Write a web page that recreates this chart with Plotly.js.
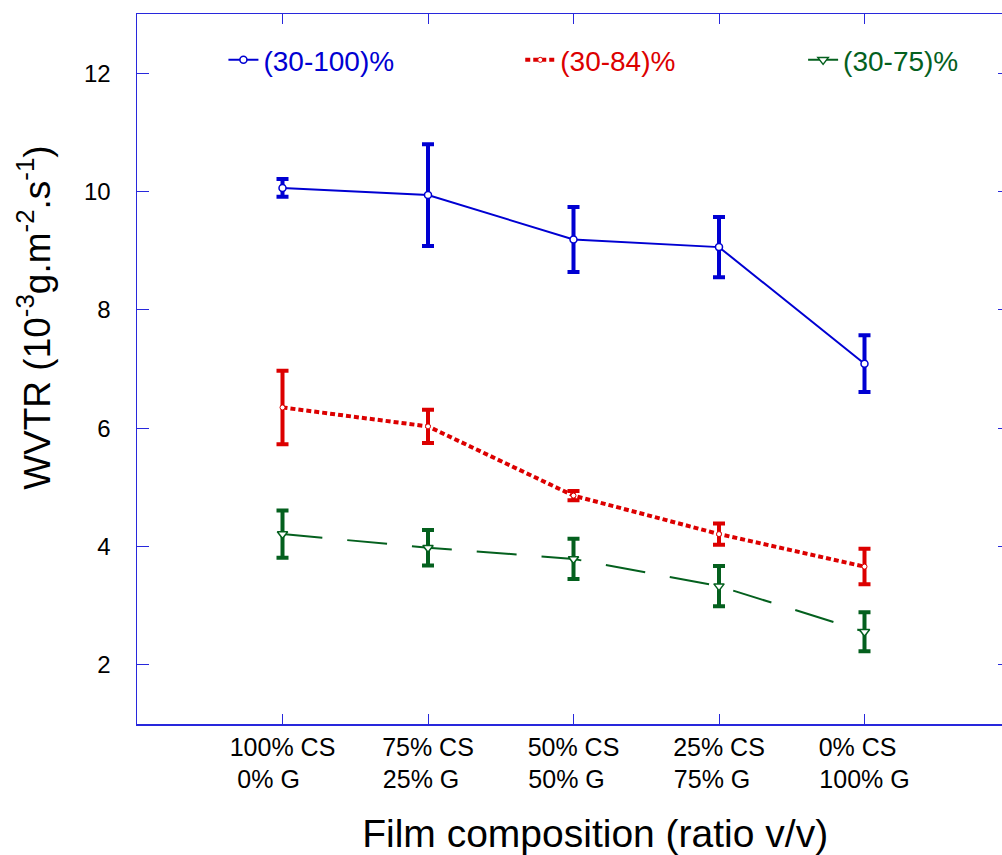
<!DOCTYPE html>
<html>
<head>
<meta charset="utf-8">
<script src="https://cdn.plot.ly/plotly-3.0.1.min.js"></script>
<style>
html,body{margin:0;padding:0;overflow:hidden;background:#fff;}
#chart{width:1012px;height:855px;}
</style>
</head>
<body>
<div id="chart"></div>
<script>
// Categories (film composition)
var categories = [0, 1, 2, 3, 4];
var NB = '\u00a0';
var ZW = '\u200b';
var tickLabels = [
  '100% CS<br>0% G' + NB.repeat(4) + ZW,
  '75% CS<br>25% G' + NB.repeat(2) + ZW,
  '50% CS<br>50% G' + NB.repeat(2) + ZW,
  '25% CS<br>75% G' + NB.repeat(2) + ZW,
  '0% CS' + NB.repeat(2) + '<br>100% G'
];

// Series: RH gradient (30-100)%
var wvtr100 = [10.06, 9.94, 9.19, 9.06, 7.09];
var err100  = [0.15, 0.86, 0.55, 0.51, 0.48];
// (30-84)%
var wvtr84 = [6.35, 6.03, 4.86, 4.21, 3.66];
var err84  = [0.62, 0.28, 0.08, 0.18, 0.30];
// (30-75)%
var wvtr75 = [4.21, 3.98, 3.79, 3.33, 2.56];
var err75  = [0.40, 0.30, 0.34, 0.34, 0.33];

var names = ['(30-100)%', '(30-84)%', '(30-75)%'];

var BLUE = 'rgb(0,0,210)';
var RED = 'rgb(220,0,0)';
var GREEN = 'rgb(4,96,30)';

var traces = [
  {
    x: categories, y: wvtr100, name: names[0], type: 'scatter', mode: 'lines+markers',
    line: {color: BLUE, width: 2},
    marker: {symbol: 'circle', size: 7, color: 'white', line: {color: BLUE, width: 1.5}},
    error_y: {type: 'data', array: err100, visible: true, color: BLUE, thickness: 4, width: 6},
    legend: 'legend'
  },
  {
    x: categories, y: wvtr84, name: names[1], type: 'scatter', mode: 'lines+markers',
    line: {color: RED, width: 4, dash: '5px,3px'},
    marker: {symbol: 'circle', size: 5, color: 'white', line: {color: RED, width: 1}},
    error_y: {type: 'data', array: err84, visible: true, color: RED, thickness: 4, width: 6},
    legend: 'legend2'
  },
  {
    x: categories, y: wvtr75, name: names[2], type: 'scatter', mode: 'lines+markers',
    line: {color: GREEN, width: 2, dash: '40px,25px'},
    marker: {symbol: 'triangle-down', size: 9, color: 'white', line: {color: GREEN, width: 1.5}},
    error_y: {type: 'data', array: err75, visible: true, color: GREEN, thickness: 4, width: 6},
    legend: 'legend3'
  }
];

function leg(x, col) {
  return {
    orientation: 'h', x: x, y: 0.935, xanchor: 'left', yanchor: 'middle',
    bgcolor: 'rgba(0,0,0,0)', font: {size: 28, color: col}
  };
}

var AX = 'rgb(40,40,220)';
var layout = {
  width: 1012, height: 855,
  margin: {l: 137, r: 2, t: 14, b: 131},
  paper_bgcolor: 'white', plot_bgcolor: 'white',
  font: {family: 'Arial, "Liberation Sans", sans-serif', color: 'black'},
  showlegend: true,
  legend: leg(0.099, BLUE),
  legend2: leg(0.439, RED),
  legend3: leg(0.763, GREEN),
  xaxis: {
    range: [-1, 5], tickmode: 'array', tickvals: categories, ticktext: tickLabels,
    ticks: 'inside', ticklen: 10, tickwidth: 1, tickcolor: AX,
    showline: true, linecolor: AX, linewidth: 1.5, mirror: 'ticks',
    showgrid: false, zeroline: false,
    tickfont: {size: 25, color: 'black'},
    ticklabelstandoff: 0,
    title: {text: ZW + NB.repeat(4) + 'Film composition (ratio v/v)', font: {size: 39, color: 'black'}, standoff: 33}
  },
  yaxis: {
    range: [1, 13], tickmode: 'array', tickvals: [2, 4, 6, 8, 10, 12],
    ticks: 'inside', ticklen: 12, tickwidth: 1, tickcolor: AX,
    showline: true, linecolor: AX, linewidth: 1.5, mirror: 'ticks',
    showgrid: false, zeroline: false,
    tickfont: {size: 24, color: 'black'},
    ticklabelstandoff: 20,
    title: {text: ZW + NB.repeat(10) + 'WVTR (10<sup>-3</sup>g.m<sup>-2</sup>.s<sup>-1</sup>)', font: {size: 37, color: 'black'}, standoff: 22}
  }
};

Plotly.newPlot('chart', traces, layout, {displayModeBar: false, staticPlot: true});
</script>
</body>
</html>
